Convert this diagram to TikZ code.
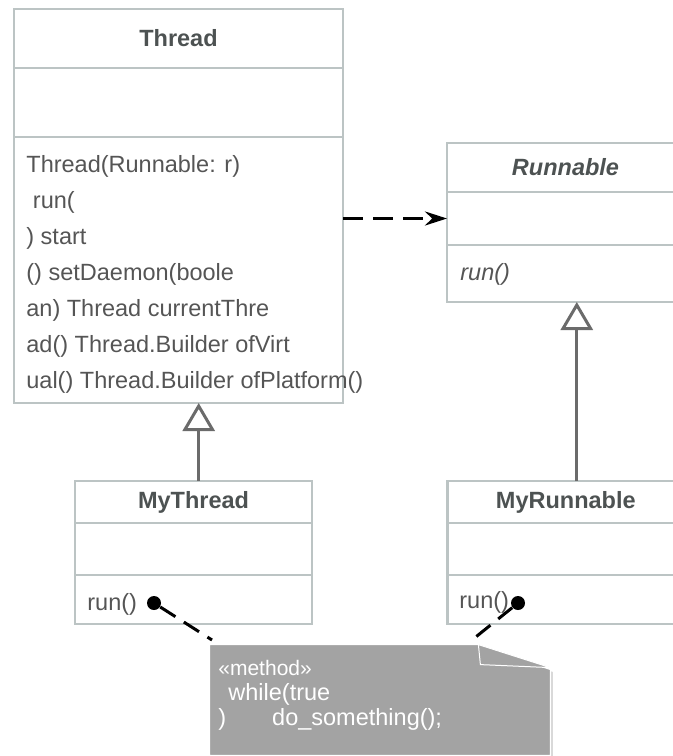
\documentclass[tikz,border=0pt]{standalone}
\usepackage{fontspec}
\setmainfont{Liberation Sans}
\usepackage{tikz}
\usetikzlibrary{positioning, arrows.meta, shadows}
\definecolor{boxline}{HTML}{BCC4C4}
\definecolor{titlegray}{HTML}{4D5252}
\definecolor{textgray}{HTML}{555555}
\definecolor{linkgray}{HTML}{6B6B6B}
\definecolor{notegray}{HTML}{A3A3A3}
\tikzset{
    part/.style = {draw = boxline, line width = 1.35pt, outer sep = 0pt, inner sep = 0pt, minimum width = 118.5pt, text = titlegray, font = \fontsize{11.75}{14}\selectfont\bfseries},
    member/.style = {anchor = base west, inner sep = 0pt, text = textgray, font = \fontsize{11.75}{14}\selectfont},
    notetext/.style = {anchor = base west, inner sep = 0pt, text = white, font = \fontsize{11.75}{14}\selectfont},
    sdot/.style = {fill, circle, inner sep = 0pt, minimum size = 7pt},
    inherit/.style = {draw = linkgray, line width = 1.5pt, -{Triangle[open, width = 16pt, length = 14pt]}},
    uses/.style = {line width = 1.5pt, dash pattern = on 10pt off 5pt, -{Stealth[length = 11pt, width = 7pt]}},
    notelink/.style = {line width = 1.5pt, dash pattern = on 9pt off 5pt}
}

\begin{document}
\begin{tikzpicture}[x = 0.5pt, y = -0.5pt]
    \useasboundingbox (0, 0) rectangle (673, 756);
    \clip (0, 0) rectangle (673, 756);
    \node [part, minimum width = 164.5pt, minimum height = 29.5pt] (thread) at (178.5, 38.5) {Thread};
    \node [part, minimum width = 164.5pt, minimum height = 34.5pt, below = 0pt of thread] (thread-attr) {};
    \node [part, minimum width = 164.5pt, minimum height = 133pt, below = 0pt of thread-attr] (thread-ops) {};
    \foreach \y/\t/\i in {172/Thread(Runnable: r)/1, 208/\ run(/2, 244/) start/3, 280/() setDaemon(boole/4, 316/an) Thread currentThre/5, 352/ad() Thread.Builder ofVirt/6, 388/ual() Thread.Builder ofPlatform()/7} {
        \node [member] (op\i) at (26, \y) {\t};
    }

    \node [part, minimum height = 24.5pt, font = \fontsize{11.75}{14}\selectfont\bfseries\itshape] (runnable) at (565.5, 167.5) {Runnable};
    \node [part, minimum height = 26.5pt, below = 0pt of runnable] (runnable-attr) {};
    \node [part, minimum height = 28.5pt, below = 0pt of runnable-attr] (runnable-ops) {};
    \node [member, font = \fontsize{11.75}{14}\selectfont\itshape] (op8) at (460, 280) {run()};

    \node [part, minimum height = 21pt] (mythread) at (193.5, 502) {MyThread};
    \node [part, minimum height = 26pt, below = 0pt of mythread] (mythread-attr) {};
    \node [part, minimum height = 24.5pt, below = 0pt of mythread-attr] (mythread-ops) {};
    \node [member] (op9) at (87, 610) {run()};

    \node [part, minimum height = 21pt] (myrunnable) at (565.8, 502) {MyRunnable};
    \node [part, minimum height = 26pt, below = 0pt of myrunnable] (myrunnable-attr) {};
    \node [part, minimum height = 24.5pt, below = 0pt of myrunnable-attr] (myrunnable-ops) {};
    \node [member] (op10) at (459, 608.5) {run()};

    \draw [uses] (thread-ops.east |- runnable-attr.west) -- (runnable-attr.west);
    \draw [inherit] ([xshift = 2.6pt]mythread.north) -- ([xshift = 2.6pt]mythread.north |- thread-ops.south);
    \draw [inherit] ([xshift = 5.5pt]myrunnable.north) -- ([xshift = 5.5pt]myrunnable.north |- runnable-ops.south);

    \node [inner sep = 0pt, minimum width = 170pt, minimum height = 55pt] (note) at (380, 700) {};
    \filldraw [notegray, draw = white, line width = 0.5pt, drop shadow = {shadow xshift = 1.2pt, shadow yshift = -1.2pt, opacity = 0.3}] (note.north west) -- ([xshift = -36pt]note.north east) -- ([yshift = -12.5pt]note.north east) -- (note.south east) -- (note.south west) -- cycle;
    \filldraw [notegray, draw = white, line width = 0.5pt] ([xshift = -36pt]note.north east) -- ([xshift = -35pt, yshift = -10pt]note.north east) -- ([yshift = -11.5pt]note.north east) -- cycle;
    \node [notetext, font = \fontsize{10.5}{12}\selectfont] (stereo) at (218, 675) {«method»};
    \node [notetext] (body1) at (218, 700.5) {\hspace{5pt}while(true};
    \node [notetext] (body2) at (218, 725.5) {)\hspace{23pt}do\_something();};

    \node [sdot] (dot1) at (154, 603) {};
    \node [sdot] (dot2) at (518, 603) {};
    \coordinate (n1) at (212, 640);
    \coordinate (n2) at (472, 640);
    \draw [notelink] (dot1) -- (n1);
    \draw [notelink] (dot2) -- (n2);
\end{tikzpicture}
\end{document}
